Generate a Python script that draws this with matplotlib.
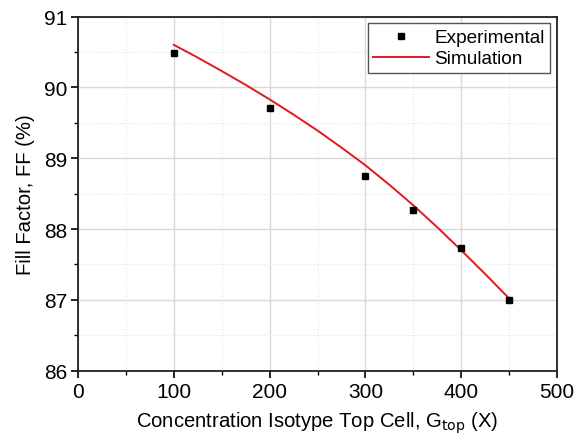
import matplotlib.pyplot as plt
from matplotlib.ticker import MultipleLocator

# data
exp_x = [100, 200, 300, 350, 400, 450]
exp_ff = [90.49, 89.71, 88.75, 88.27, 87.73, 87.00]

sim_x = [100, 125, 150, 175, 200, 225, 250, 275, 300, 325, 350, 375, 400, 425, 450]
sim_ff = [90.60, 90.42, 90.23, 90.035, 89.83, 89.615, 89.39, 89.15, 88.90, 88.625,
          88.335, 88.025, 87.70, 87.365, 87.02]

plt.rcParams['font.family'] = ['Liberation Sans', 'DejaVu Sans']

fig = plt.figure(figsize=(5.81, 4.39), dpi=100)
ax = fig.add_axes([78/581, 1 - 371.7/439, 479/581, 354.2/439])

ax.plot(exp_x, exp_ff, "s", color="black", markersize=5, label="Experimental", zorder=3)
ax.plot(sim_x, sim_ff, "-", color="#e8161a", linewidth=1.4, label="Simulation", zorder=2)

ax.set_xlim(0, 500)
ax.set_ylim(86, 91)
ax.xaxis.set_major_locator(MultipleLocator(100))
ax.xaxis.set_minor_locator(MultipleLocator(50))
ax.yaxis.set_major_locator(MultipleLocator(1))
ax.yaxis.set_minor_locator(MultipleLocator(0.5))

ax.grid(which="major", color="#d9d9d9", linewidth=1.0)
ax.grid(which="minor", color="#e6e6e6", linewidth=0.8, linestyle=":")
ax.set_axisbelow(True)

ax.tick_params(which="major", direction="out", length=5, width=1.2, labelsize=15,
               top=False, right=False, pad=3)
ax.tick_params(which="minor", direction="out", length=3, width=1.0, top=False, right=False)
for s in ax.spines.values():
    s.set_linewidth(1.3)
    s.set_color("#222222")

ax.set_xlabel(r"Concentration Isotype Top Cell, G$_{\mathrm{top}}$ (X)", fontsize=14.6, labelpad=6)
ax.set_ylabel("Fill Factor, FF (%)", fontsize=14.6, labelpad=6)

leg = ax.legend(loc="upper right", fontsize=13.7, fancybox=False, framealpha=1,
                edgecolor="#555555", borderaxespad=0.35, handlelength=2.9,
                borderpad=0.3, labelspacing=0.2, handletextpad=0.3)
leg.get_frame().set_linewidth(1.0)

fig.savefig("out.png", dpi=100)
